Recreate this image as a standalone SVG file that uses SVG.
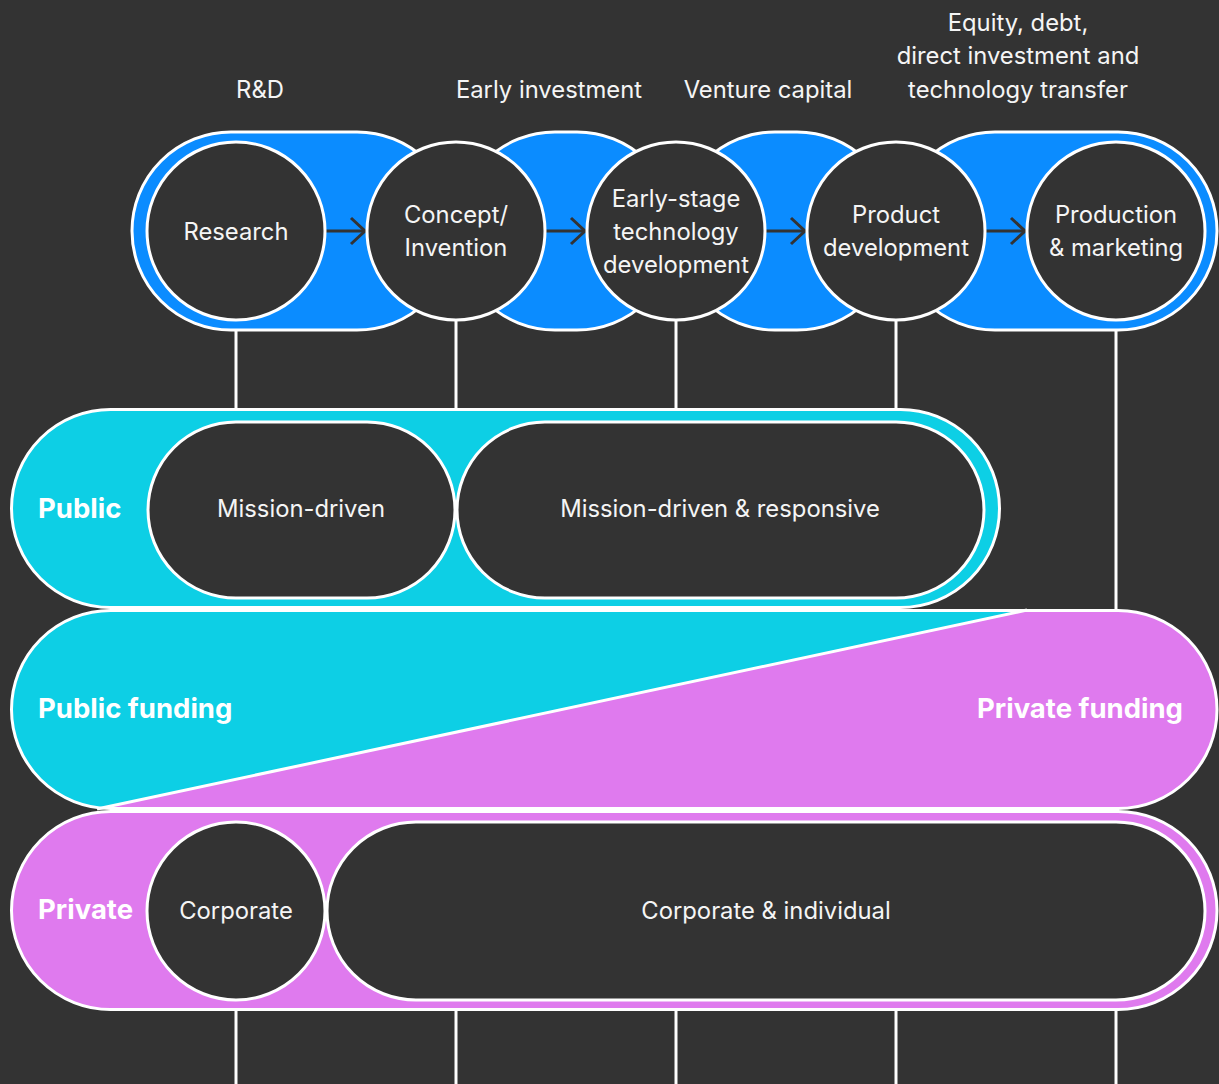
<svg xmlns="http://www.w3.org/2000/svg" width="1219" height="1084" viewBox="0 0 1219 1084">
<defs>
<style>
.bg{fill:#333333}
.blue{fill:#0b8cff;stroke:#ffffff;stroke-width:3}
.cyan{fill:#0dcfe5;stroke:#ffffff;stroke-width:3}
.pink{fill:#df7aee;stroke:#ffffff;stroke-width:3}
.node{fill:#333333;stroke:#ffffff;stroke-width:3}
.vline{stroke:#ffffff;stroke-width:3;fill:none}
.arrow{stroke:#333333;stroke-width:3;fill:none}
.t{font-family:Inter,"Liberation Sans",sans-serif;font-size:23.8px;fill:#f5f5f5;text-anchor:middle}
.b{font-family:Inter,"Liberation Sans",sans-serif;font-size:27.5px;font-weight:bold;fill:#ffffff}
</style>
<clipPath id="fundClip"><rect x="11.5" y="610.5" width="1205.5" height="198" rx="99" ry="99"/></clipPath>
</defs>
<rect class="bg" x="0" y="0" width="1219" height="1084"/>

<g id="stage-labels">
<text class="t" x="260" y="98">R&amp;D</text>
<text class="t" x="549" y="98">Early investment</text>
<text class="t" x="768" y="98">Venture capital</text>
<text class="t" x="1018" y="31">Equity, debt,</text>
<text class="t" x="1018" y="64">direct investment and</text>
<text class="t" x="1018" y="98">technology transfer</text>
</g>

<g id="connectors">
<line class="vline" x1="236" y1="320" x2="236" y2="409"/>
<line class="vline" x1="456" y1="320" x2="456" y2="409"/>
<line class="vline" x1="676" y1="320" x2="676" y2="409"/>
<line class="vline" x1="896" y1="320" x2="896" y2="409"/>
<line class="vline" x1="1116" y1="320" x2="1116" y2="610"/>
<line class="vline" x1="236" y1="1010" x2="236" y2="1084"/>
<line class="vline" x1="456" y1="1010" x2="456" y2="1084"/>
<line class="vline" x1="676" y1="1010" x2="676" y2="1084"/>
<line class="vline" x1="896" y1="1010" x2="896" y2="1084"/>
<line class="vline" x1="1116" y1="1010" x2="1116" y2="1084"/>
</g>

<g id="stage-pills">
<rect class="blue" x="896" y="132" width="321" height="198" rx="99" ry="99"/>
<rect class="blue" x="676" y="132" width="220" height="198" rx="99" ry="99"/>
<rect class="blue" x="456" y="132" width="220" height="198" rx="99" ry="99"/>
<rect class="blue" x="132" y="132" width="324" height="198" rx="99" ry="99"/>
</g>

<g id="arrows">
<line class="arrow" x1="326" y1="231" x2="364" y2="231"/><polyline class="arrow" points="351,218 365,231 351,244"/>
<line class="arrow" x1="546" y1="231" x2="584" y2="231"/><polyline class="arrow" points="571,218 585,231 571,244"/>
<line class="arrow" x1="766" y1="231" x2="804" y2="231"/><polyline class="arrow" points="791,218 805,231 791,244"/>
<line class="arrow" x1="986" y1="231" x2="1024" y2="231"/><polyline class="arrow" points="1011,218 1025,231 1011,244"/>
</g>

<g id="node-research"><circle class="node" cx="236" cy="231" r="89"/><text class="t" x="236" y="240">Research</text></g>
<g id="node-concept"><circle class="node" cx="456" cy="231" r="89"/><text class="t" x="456" y="223">Concept/</text><text class="t" x="456" y="256">Invention</text></g>
<g id="node-early"><circle class="node" cx="676" cy="231" r="89"/><text class="t" x="676" y="207">Early-stage</text><text class="t" x="676" y="240">technology</text><text class="t" x="676" y="273">development</text></g>
<g id="node-product"><circle class="node" cx="896" cy="231" r="89"/><text class="t" x="896" y="223">Product</text><text class="t" x="896" y="256">development</text></g>
<g id="node-production"><circle class="node" cx="1116" cy="231" r="89"/><text class="t" x="1116" y="223">Production</text><text class="t" x="1116" y="256">&amp; marketing</text></g>

<g id="public">
<rect class="cyan" x="11.5" y="409.5" width="988" height="198" rx="99" ry="99"/>
<text class="b" x="38" y="518">Public</text>
</g>
<g id="node-mission"><rect class="node" x="148" y="422" width="307" height="176" rx="88" ry="88"/><text class="t" x="301" y="517">Mission-driven</text></g>
<g id="node-mission-responsive"><rect class="node" x="457" y="422" width="527" height="176" rx="88" ry="88"/><text class="t" x="720" y="517">Mission-driven &amp; responsive</text></g>

<g id="funding">
<rect x="11.5" y="610.5" width="1205.5" height="198" rx="99" ry="99" fill="#df7aee"/>
<polygon points="0,600 1027,600 1027,610 97,809 0,820" fill="#0dcfe5" clip-path="url(#fundClip)"/>
<line x1="1027" y1="610" x2="97" y2="809" stroke="#ffffff" stroke-width="3"/>
<rect x="11.5" y="610.5" width="1205.5" height="198" rx="99" ry="99" fill="none" stroke="#ffffff" stroke-width="3"/>
<text class="b" x="38" y="718">Public funding</text>
<text class="b" x="1183" y="718" text-anchor="end">Private funding</text>
</g>

<g id="private">
<rect class="pink" x="11.5" y="811.5" width="1205.5" height="198" rx="99" ry="99"/>
<text class="b" x="38" y="919">Private</text>
</g>
<g id="node-corporate"><circle class="node" cx="236" cy="911" r="89"/><text class="t" x="236" y="919">Corporate</text></g>
<g id="node-corporate-individual"><rect class="node" x="327" y="822" width="878" height="178" rx="89" ry="89"/><text class="t" x="766" y="919">Corporate &amp; individual</text></g>
</svg>
